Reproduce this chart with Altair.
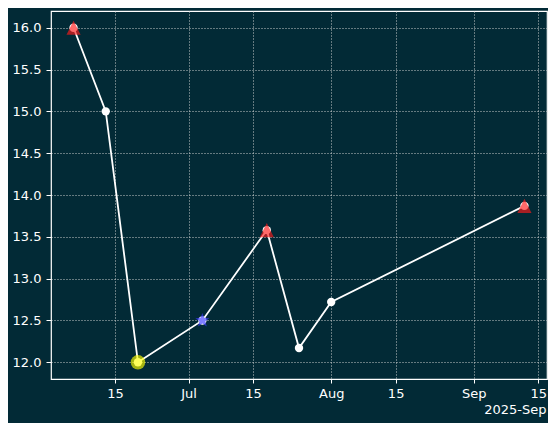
import altair as alt
import pandas as pd

dates = ["2025-06-06", "2025-06-13", "2025-06-20", "2025-07-04",
         "2025-07-18", "2025-07-25", "2025-08-01", "2025-09-12"]
values = [16.0, 15.0, 12.0, 12.5, 13.58, 12.17, 12.72, 13.87]
kinds = ["peak", "none", "min", "mid", "peak", "none", "none", "peak"]

tick_dates = [(2025, 6, 15), (2025, 7, 1), (2025, 7, 15), (2025, 8, 1),
              (2025, 8, 15), (2025, 9, 1), (2025, 9, 15)]
y_ticks = [12.0, 12.5, 13.0, 13.5, 14.0, 14.5, 15.0, 15.5, 16.0]

df = pd.DataFrame({"date": dates, "value": values, "kind": kinds})
special = df[df["kind"] != "none"]

BG = "#022a36"
FG = "#ffffff"

TRI = "M0,-1L1,1L-1,1Z"
STAR = "M0,-1L0.25,-0.35L0.95,-0.31L0.4,0.12L0.59,0.81L0,0.4L-0.59,0.81L-0.4,0.12L-0.95,-0.31L-0.25,-0.35Z"

x_enc = alt.X(
    "date:T",
    scale=alt.Scale(
        type="utc",
        domain=[alt.DateTime(year=2025, month=6, date=1, hours=2, minutes=24, utc=True),
                alt.DateTime(year=2025, month=9, date=16, hours=21, minutes=36, utc=True)],
        nice=False,
    ),
    axis=alt.Axis(
        values=[alt.DateTime(year=y, month=m, date=d, utc=True) for (y, m, d) in tick_dates],
        labelExpr="utcdate(datum.value) == 1 ? utcFormat(datum.value, '%b') : utcFormat(datum.value, '%-d')",
        title="2025-Sep",
        titleAnchor="end",
        titleAlign="right",
        titleX=495,
        titleFontWeight="normal",
        titleFontSize=13,
        titleColor=FG,
        titlePadding=3,
        labelPadding=4,
    ),
)
y_enc = alt.Y(
    "value:Q",
    scale=alt.Scale(domain=[11.8, 16.2], nice=False, zero=False),
    axis=alt.Axis(values=y_ticks, format=".1f", title=None, labelPadding=5, tickSize=5),
)

line = alt.Chart(df).mark_line(color=FG, strokeWidth=1.8).encode(x=x_enc, y=y_enc)
dots = alt.Chart(df).mark_point(filled=True, shape="circle", color=FG, size=70, opacity=1).encode(x=x_enc, y=y_enc)
marks = alt.Chart(special).mark_point(filled=True, opacity=0.65, strokeWidth=0).encode(
    x=x_enc,
    y=y_enc,
    shape=alt.Shape("kind:N", scale=alt.Scale(domain=["peak", "min", "mid"],
                                              range=[TRI, "circle", STAR]), legend=None),
    color=alt.Color("kind:N", scale=alt.Scale(domain=["peak", "min", "mid"],
                                              range=["#ff1a1a", "#ffff00", "#3a3aff"]), legend=None),
    size=alt.Size("kind:N", scale=alt.Scale(domain=["peak", "min", "mid"], range=[200, 220, 440]), legend=None),
)

chart = alt.layer(line, dots, marks).properties(
    width=496,
    height=368,
    background=BG,
    autosize=alt.AutoSizeParams(type="none"),
    padding={"left": 43, "top": 3, "right": 1, "bottom": 44},
).configure_view(
    stroke=FG, strokeWidth=1.2
).configure_axis(
    labelFont="DejaVu Sans",
    titleFont="DejaVu Sans",
    labelFontSize=13,
    labelColor=FG,
    domain=False,
    tickColor=FG,
    tickSize=4,
    tickWidth=1,
    grid=True,
    gridColor="#dddddd",
    gridDash=[1, 2],
    gridWidth=1,
    gridOpacity=0.9,
)

chart.save("out.html", embed_options={"renderer": "svg", "actions": False})
